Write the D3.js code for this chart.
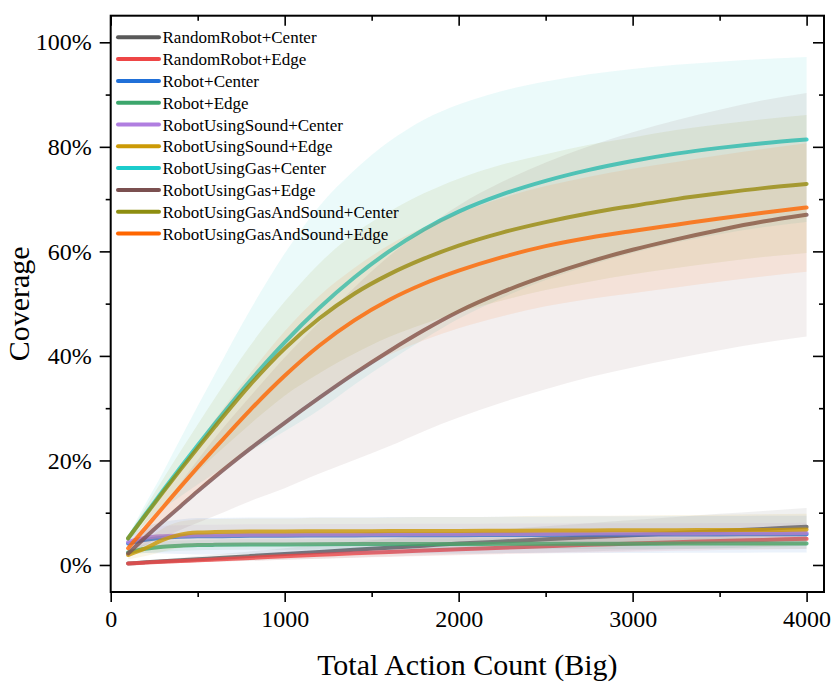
<!DOCTYPE html>
<html>
<head>
<meta charset="utf-8">
<script src="https://cdn.jsdelivr.net/npm/d3@7"></script>
<style>
  body { margin: 0; background: #fff; }
  text { font-family: "Liberation Serif", "Times New Roman", serif; fill: #000; }
</style>
</head>
<body>
<svg id="chart" width="831" height="682"></svg>
<script>
// Coverage vs total action count, mean line with a +-std band per setup

const steps = [100, 200, 300, 400, 500, 600, 800, 1000, 1200, 1400, 1600, 1800, 2000, 2250, 2500, 2750, 3000, 3250, 3500, 3750, 4000];

const seriesNames = [
  "RandomRobot+Center", "RandomRobot+Edge", "Robot+Center", "Robot+Edge",
  "RobotUsingSound+Center", "RobotUsingSound+Edge", "RobotUsingGas+Center",
  "RobotUsingGas+Edge", "RobotUsingGasAndSound+Center", "RobotUsingGasAndSound+Edge"
];
const seriesColors = ["#595959", "#ee4646", "#2070d8", "#3ca66c", "#b07ee0", "#cc9a06", "#1ccccc", "#7b5050", "#8e8e10", "#ff6600"];

// mean coverage, percent
const randomCenter = [0.3, 0.5, 0.7, 0.9, 1.1, 1.3, 1.7, 2.1, 2.5, 2.9, 3.3, 3.7, 4.1, 4.5, 4.9, 5.3, 5.7, 6.1, 6.5, 6.9, 7.3];
const randomEdge   = [0.3, 0.45, 0.6, 0.75, 0.9, 1.05, 1.35, 1.65, 1.95, 2.25, 2.5, 2.75, 3.0, 3.3, 3.6, 3.85, 4.1, 4.35, 4.6, 4.8, 5.0];
const robotCenter  = [4.1, 4.8, 5.2, 5.4, 5.5, 5.5, 5.6, 5.6, 5.65, 5.65, 5.7, 5.7, 5.7, 5.75, 5.75, 5.8, 5.8, 5.85, 5.85, 5.9, 5.9];
const robotEdge    = [2.4, 3.1, 3.5, 3.7, 3.8, 3.85, 3.9, 3.9, 3.95, 4.0, 4.0, 4.0, 4.0, 4.05, 4.05, 4.05, 4.05, 4.1, 4.1, 4.1, 4.1];
const soundCenter  = [4.4, 5.2, 5.5, 5.6, 5.7, 5.7, 5.8, 5.8, 5.85, 5.85, 5.9, 5.9, 5.9, 5.95, 5.95, 6.0, 6.0, 6.0, 6.05, 6.05, 6.1];
const soundEdge    = [1.9, 3.2, 4.8, 5.8, 6.2, 6.3, 6.4, 6.4, 6.45, 6.45, 6.5, 6.5, 6.5, 6.55, 6.6, 6.6, 6.65, 6.65, 6.7, 6.7, 6.8];
const gasCenter    = [5.1, 9.7, 14.2, 18.6, 22.9, 27.1, 35.2, 42.6, 49.2, 55, 60, 64.2, 67.6, 70.9, 73.5, 75.6, 77.3, 78.7, 79.8, 80.7, 81.4];
const gasEdge      = [2.2, 5.3, 8.3, 11.2, 14.1, 16.9, 22.2, 27.2, 32, 36.6, 40.9, 44.9, 48.5, 52.2, 55.3, 58, 60.3, 62.3, 64.1, 65.7, 67];
const bothCenter   = [5.1, 9.5, 13.9, 18.2, 22.4, 26.5, 34.4, 41.4, 47.2, 51.9, 55.6, 58.6, 61.1, 63.6, 65.6, 67.3, 68.7, 70, 71.1, 72.1, 72.9];
const bothEdge     = [3.2, 7.1, 11, 14.9, 18.7, 22.4, 29.6, 36.2, 42, 46.8, 50.7, 53.8, 56.3, 58.9, 61, 62.6, 63.9, 65.1, 66.3, 67.4, 68.4];

// standard deviation, percent
const randomCenterStd = [0.2, 0.3, 0.4, 0.5, 0.6, 0.7, 0.9, 1.1, 1.3, 1.5, 1.7, 1.9, 2.1, 2.3, 2.5, 2.7, 2.9, 3.1, 3.3, 3.45, 3.6];
const randomEdgeStd   = [0.1, 0.2, 0.3, 0.35, 0.4, 0.45, 0.55, 0.65, 0.75, 0.85, 0.95, 1.05, 1.15, 1.25, 1.35, 1.45, 1.55, 1.65, 1.75, 1.85, 1.95];
const robotCenterStd  = [1.5, 2.5, 3.0, 3.3, 3.5, 3.5, 3.5, 3.5, 3.5, 3.5, 3.5, 3.5, 3.5, 3.5, 3.5, 3.5, 3.5, 3.5, 3.5, 3.5, 3.5];
const robotEdgeStd    = [0.5, 0.8, 1.0, 1.0, 1.0, 1.0, 1.0, 1.0, 1.0, 1.0, 1.0, 1.0, 1.0, 1.0, 1.0, 1.0, 1.0, 1.0, 1.0, 1.0, 1.0];
const soundCenterStd  = [1.0, 1.5, 2.0, 2.0, 2.0, 2.0, 2.0, 2.0, 2.0, 2.0, 2.0, 2.0, 2.0, 2.0, 2.0, 2.0, 2.0, 2.0, 2.0, 2.0, 2.0];
const soundEdgeStd    = [0.8, 1.5, 2.2, 2.5, 2.5, 2.5, 2.5, 2.5, 2.6, 2.6, 2.6, 2.7, 2.7, 2.7, 2.8, 2.8, 2.8, 2.9, 2.9, 3.0, 3.0];
const gasCenterStd    = [0.5, 2, 3.5, 5.5, 7.5, 9.5, 13.5, 17, 19.5, 20.5, 21, 21, 20.5, 19.8, 19, 18.3, 17.6, 17, 16.5, 16.1, 15.8];
const gasEdgeStd      = [0.3, 1.5, 3, 4.5, 6, 7.5, 10, 12.5, 14.5, 16.5, 18.2, 19.3, 20.3, 21.1, 21.7, 22.1, 22.5, 22.8, 23, 23.2, 23.3];
const bothCenterStd   = [0.5, 1.5, 2.5, 3.5, 4.5, 5.5, 7.5, 9, 10.5, 11.5, 12, 12.5, 12.8, 13, 13, 13.1, 13.1, 13.2, 13.2, 13.2, 13.2];
const bothEdgeStd     = [0.5, 1.5, 2.5, 3.5, 4.5, 5.5, 7, 8.5, 9.5, 10, 10.5, 10.8, 11, 11.3, 11.5, 11.7, 11.9, 12, 12.1, 12.2, 12.3];

const xTicks = [0, 1000, 2000, 3000, 4000];
const xMinor = [500, 1500, 2500, 3500];
const yTicks = [0, 20, 40, 60, 80, 100];
const yMinor = [10, 30, 50, 70, 90];

const means = [randomCenter, randomEdge, robotCenter, robotEdge, soundCenter, soundEdge, gasCenter, gasEdge, bothCenter, bothEdge];
const stds = [randomCenterStd, randomEdgeStd, robotCenterStd, robotEdgeStd, soundCenterStd, soundEdgeStd, gasCenterStd, gasEdgeStd, bothCenterStd, bothEdgeStd];

const series = seriesNames.map((name, i) => ({
  name,
  color: seriesColors[i],
  points: steps.map((s, j) => ({ x: s, y: means[i][j], sd: stds[i][j] }))
}));

const plotL = 110.7, plotR = 824, plotT = 15.7, plotB = 592;

const x = d3.scaleLinear().domain([0, 4100]).range([plotL, plotR]);
const y = d3.scaleLinear().domain([-5.17, 105.09]).range([plotB, plotT]);

const svg = d3.select("#chart");

svg.append("clipPath").attr("id", "plot")
  .append("rect").attr("x", plotL).attr("y", plotT).attr("width", plotR - plotL).attr("height", plotB - plotT);

const plot = svg.append("g").attr("clip-path", "url(#plot)");

const line = d3.line().x(d => x(d.x)).y(d => y(d.y)).curve(d3.curveMonotoneX);
const band = d3.area().x(d => x(d.x)).y0(d => y(d.y - d.sd)).y1(d => y(d.y + d.sd)).curve(d3.curveMonotoneX);

// line first, then its band on top, series by series
series.forEach(s => {
  plot.append("path")
    .datum(s.points)
    .attr("d", line)
    .attr("fill", "none")
    .attr("stroke", s.color)
    .attr("stroke-width", 4)
    .attr("stroke-linecap", "round")
    .attr("stroke-opacity", 0.8);
  plot.append("path")
    .datum(s.points)
    .attr("d", band)
    .attr("fill", s.color)
    .attr("fill-opacity", 0.09);
});

// axes, ticks out on bottom/left, in on top/right
function styleAxis(g) {
  g.select(".domain").remove();
  g.selectAll(".tick line").attr("stroke", "#000").attr("stroke-width", 1.6);
  g.selectAll("text").attr("font-size", 24).attr("font-family", "Liberation Serif, Times New Roman, serif");
}

svg.append("g").attr("transform", `translate(0,${plotB})`)
  .call(d3.axisBottom(x).tickValues(xTicks).tickSize(10).tickPadding(8).tickFormat(d3.format("d")))
  .call(styleAxis);
svg.append("g").attr("transform", `translate(0,${plotB})`)
  .call(d3.axisBottom(x).tickValues(xMinor).tickSize(5).tickFormat(""))
  .call(styleAxis);
svg.append("g").attr("transform", `translate(0,${plotT})`)
  .call(d3.axisBottom(x).tickValues(xTicks).tickSize(10).tickFormat(""))
  .call(styleAxis);
svg.append("g").attr("transform", `translate(0,${plotT})`)
  .call(d3.axisBottom(x).tickValues(xMinor).tickSize(5).tickFormat(""))
  .call(styleAxis);

svg.append("g").attr("transform", `translate(${plotL},0)`)
  .call(d3.axisLeft(y).tickValues(yTicks).tickSize(11).tickPadding(8).tickFormat(d => d + "%"))
  .call(styleAxis);
svg.append("g").attr("transform", `translate(${plotL},0)`)
  .call(d3.axisLeft(y).tickValues(yMinor).tickSize(5).tickFormat(""))
  .call(styleAxis);
svg.append("g").attr("transform", `translate(${plotR},0)`)
  .call(d3.axisLeft(y).tickValues(yTicks).tickSize(11).tickFormat(""))
  .call(styleAxis);
svg.append("g").attr("transform", `translate(${plotR},0)`)
  .call(d3.axisLeft(y).tickValues(yMinor).tickSize(5).tickFormat(""))
  .call(styleAxis);

svg.append("rect")
  .attr("x", plotL).attr("y", plotT)
  .attr("width", plotR - plotL).attr("height", plotB - plotT)
  .attr("fill", "none").attr("stroke", "#000").attr("stroke-width", 2);

// axis titles
svg.append("text")
  .attr("x", (plotL + plotR) / 2).attr("y", 675)
  .attr("text-anchor", "middle").attr("font-size", 30)
  .text("Total Action Count (Big)");
svg.append("text")
  .attr("transform", `translate(29,${(plotT + plotB) / 2}) rotate(-90)`)
  .attr("text-anchor", "middle").attr("font-size", 30)
  .text("Coverage");

// legend, no frame
const legend = svg.append("g");
series.forEach((s, i) => {
  const ly = 37.3 + i * 21.8;
  legend.append("line")
    .attr("x1", 118).attr("x2", 159).attr("y1", ly).attr("y2", ly)
    .attr("stroke", s.color).attr("stroke-width", 4).attr("stroke-linecap", "round");
  legend.append("text")
    .attr("x", 162.5).attr("y", ly + 6)
    .attr("font-size", 17)
    .text(s.name);
});
</script>
</body>
</html>
